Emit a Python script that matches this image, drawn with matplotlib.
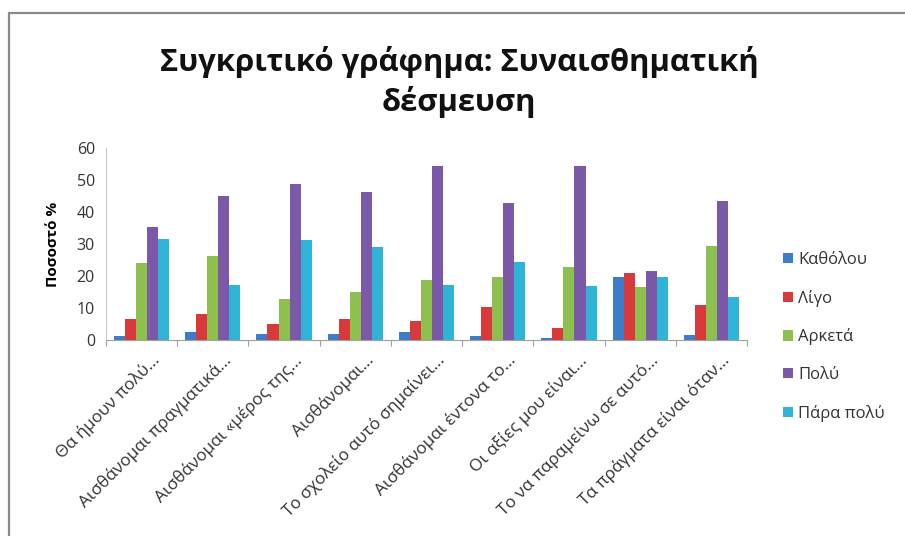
import numpy as np
import matplotlib.pyplot as plt
from matplotlib.patches import Rectangle, Patch

# -----------------------------
# Data
# -----------------------------
categories = [
    "Θα ήμουν πολύ...",
    "Αισθάνομαι πραγματικά...",
    "Αισθάνομαι «μέρος της...",
    "Αισθάνομαι...",
    "Το σχολείο αυτό σημαίνει...",
    "Αισθάνομαι έντονα το...",
    "Οι αξίες μου είναι...",
    "Το να παραμείνω σε αυτό...",
    "Τα πράγματα είναι όταν...",
]
series_names = ["Καθόλου", "Λίγο", "Αρκετά", "Πολύ", "Πάρα πολύ"]

katholou = [1.4, 2.6, 1.8, 1.8, 2.6, 1.3, 0.5, 19.6, 1.5]
ligo = [6.5, 8.0, 5.0, 6.5, 5.8, 10.2, 3.9, 20.8, 10.9]
arketa = [24.0, 26.4, 12.7, 15.1, 18.8, 19.8, 22.7, 16.5, 29.4]
poly = [35.3, 45.1, 48.8, 46.4, 54.5, 42.7, 54.4, 21.7, 43.4]
para_poly = [31.5, 17.2, 31.1, 29.0, 17.2, 24.5, 17.0, 19.6, 13.3]

colors = ["#3D7CC9", "#D9393B", "#8DC04E", "#7B58A8", "#2FB4D8"]

plt.rcParams['font.family'] = ['Open Sans', 'DejaVu Sans']

# -----------------------------
# Figure
# -----------------------------
W, H = 905, 536
fig = plt.figure(figsize=(W / 100, H / 100), dpi=100)
fig.patch.set_facecolor("white")

# outer chart frame
fig.patches.append(Rectangle((9 / W, -0.05), 1.1, (H - 13) / H + 0.05,
                             transform=fig.transFigure, fill=False,
                             edgecolor="#8a8a8a", linewidth=1.6))

ax = fig.add_axes([106 / W, (H - 340) / H, (747 - 106) / W, 192 / H])

values = [katholou, ligo, arketa, poly, para_poly]
x = np.arange(len(categories))
bw = 0.155
for i, (vals, c) in enumerate(zip(values, colors)):
    ax.bar(x + (i - 2) * bw, vals, width=bw, color=c, edgecolor="none")

ax.set_xlim(-0.5, len(categories) - 0.5)
ax.set_ylim(0, 60)
ax.set_yticks(range(0, 61, 10))
ax.tick_params(axis="y", length=0, labelsize=11.5, labelcolor="#333333", pad=8)

# category separators on the x axis
ax.set_xticks(np.arange(-0.5, len(categories), 1.0))
ax.set_xticklabels([])
ax.tick_params(axis="x", length=4, color="#a0a0a0", direction="out")
for xi, lab in zip(x, categories):
    ax.annotate(lab, xy=(xi + 0.22, 0), xycoords=("data", "axes fraction"),
                xytext=(0, -13), textcoords="offset points",
                rotation=45, rotation_mode="anchor", ha="right", va="center",
                fontsize=12.3, color="#333333")

for s in ["top", "right"]:
    ax.spines[s].set_visible(False)
ax.spines["left"].set_color("#c8c8c8")
ax.spines["bottom"].set_color("#a0a0a0")

ax.set_ylabel("Ποσοστό %", fontsize=11, fontweight="bold", labelpad=12)

fig.text(459 / W, 1 - 82 / H, "Συγκριτικό γράφημα: Συναισθηματική\nδέσμευση",
         ha="center", va="center", fontsize=22.3, fontweight="bold",
         linespacing=1.32, color="#111111")

handles = [Patch(facecolor=c, edgecolor="none") for c in colors]
fig.legend(handles, series_names, loc="upper left",
           bbox_to_anchor=(768 / W, 1 - 237 / H), frameon=False,
           fontsize=12, handlelength=0.6, handleheight=0.6,
           handletextpad=0.3, labelspacing=1.3, labelcolor="#333333")

fig.savefig("out.png", dpi=100)
